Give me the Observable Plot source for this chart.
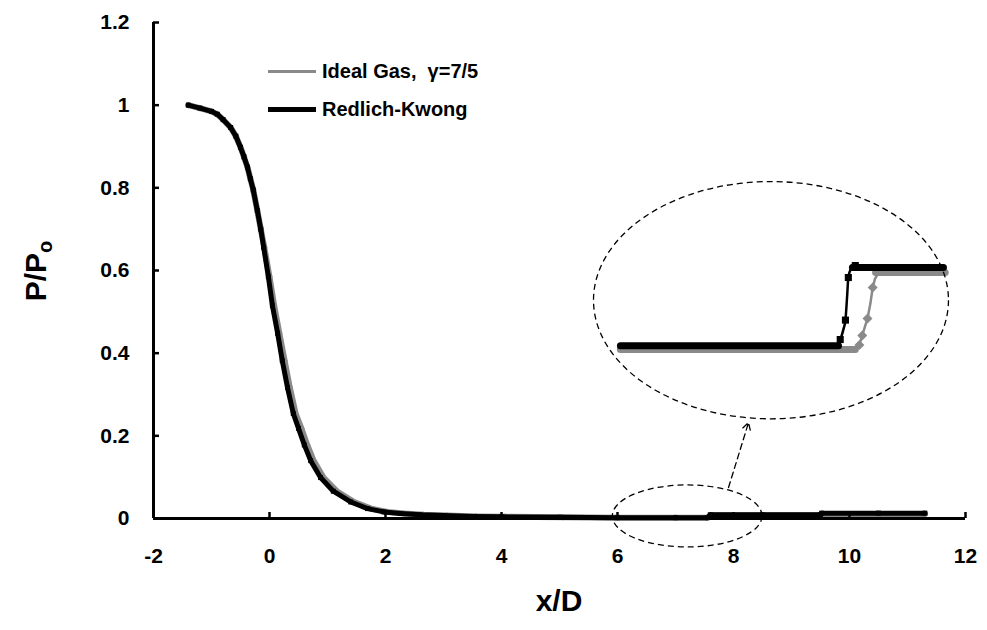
<!DOCTYPE html>
<html><head><meta charset="utf-8">
<script src="https://cdn.jsdelivr.net/npm/d3@7"></script>
<script src="https://cdn.jsdelivr.net/npm/@observablehq/plot@0.6"></script>
<style>
body{margin:0;background:#fff;font-family:"Liberation Sans",Arial,sans-serif;}
#wrap{position:relative;width:987px;height:630px;}
.leg{position:absolute;left:268px;display:flex;align-items:center;height:26px;font-weight:bold;font-size:20px;color:#000;white-space:pre;}
.leg .sw{width:48px;margin-right:6px;}
</style></head><body><div id="wrap"></div>
<script>
// ---- data ----
const xTicks = [-2, 0, 2, 4, 6, 8, 10, 12];
const xTickLabels = ["-2", "0", "2", "4", "6", "8", "10", "12"];
const yTicks = [0, 0.2, 0.4, 0.6, 0.8, 1, 1.2];
const yTickLabels = ["0", "0.2", "0.4", "0.6", "0.8", "1", "1.2"];
const seriesNames = ["Ideal Gas,  γ=7/5", "Redlich-Kwong"];

// Redlich-Kwong (black squares)
const rkX = [-1.40,-1.20,-1.00,-0.90,-0.80,-0.67,-0.58,-0.50,-0.44,-0.38,-0.33,-0.28,-0.21,-0.15,-0.10,-0.02,0.05,0.14,0.22,0.31,0.41,0.50,0.60,0.71,0.88,1.10,1.40,1.69,1.97,2.26,2.60,3.00,3.50,4.00,5.00,6.00,7.00,7.55,7.60,8.50,9.50,9.52,10.50,11.30];
const rkY = [1.000,0.993,0.985,0.978,0.965,0.946,0.925,0.898,0.875,0.850,0.822,0.795,0.745,0.700,0.656,0.585,0.515,0.448,0.382,0.317,0.254,0.218,0.178,0.140,0.099,0.066,0.040,0.024,0.016,0.012,0.009,0.007,0.005,0.004,0.003,0.002,0.002,0.002,0.009,0.009,0.009,0.013,0.013,0.013];
// Ideal gas (gray diamonds)
const igX = [-1.40,-1.20,-1.00,-0.90,-0.80,-0.67,-0.58,-0.50,-0.44,-0.38,-0.33,-0.28,-0.21,-0.15,-0.09,0.00,0.08,0.17,0.26,0.35,0.45,0.55,0.65,0.76,0.93,1.16,1.46,1.75,2.03,2.32,2.66,3.06,3.56,4.06,5.06,6.00,7.00,7.55,7.60,8.50,9.50,9.52,10.50,11.30];
const igY = [1.000,0.993,0.985,0.978,0.965,0.946,0.925,0.898,0.875,0.850,0.822,0.795,0.745,0.700,0.656,0.585,0.515,0.448,0.382,0.317,0.254,0.218,0.178,0.140,0.099,0.066,0.040,0.024,0.016,0.012,0.009,0.007,0.005,0.004,0.003,0.002,0.002,0.002,0.008,0.008,0.008,0.011,0.011,0.011];

// magnified inset (drawn in main-plot units)
const insetRkX = [6.05,9.78,9.84,9.90,9.93,9.96,9.98,10.03,10.10,10.20,10.90,11.62];
const insetRkY = [0.418,0.418,0.433,0.460,0.480,0.540,0.583,0.605,0.612,0.605,0.608,0.608];
const insetRkMarkX = [9.84,9.93,9.98,10.10];
const insetRkMarkY = [0.433,0.480,0.583,0.612];
const insetIgX = [6.05,10.05,10.10,10.17,10.22,10.28,10.31,10.36,10.40,10.44,10.48,10.55,11.65];
const insetIgY = [0.408,0.408,0.410,0.420,0.443,0.470,0.484,0.520,0.559,0.580,0.590,0.595,0.595];
const insetIgMarkX = [10.17,10.22,10.31,10.40];
const insetIgMarkY = [0.420,0.443,0.484,0.559];
const insetRkBand = [[6.05,0.418],[9.81,0.418]];
const insetRkTop = [[10.05,0.607],[11.62,0.607]];
const insetIgBand = [[6.05,0.409],[10.1,0.409]];
const insetIgTop = [[10.45,0.595],[11.65,0.595]];

// annotation ellipses and arrow
const ellCx = [8.655, 7.21];
const ellCy = [0.527, 0.005];
const ellRx = [3.06, 1.29];
const ellRy = [0.287, 0.075];
const arrowFrom = [7.914, 0.075];
const arrowTo = [8.259, 0.232];

// ---- build tables ----
const rk = rkX.map((x, i) => ({x, y: rkY[i]}));
const ig = igX.map((x, i) => ({x, y: igY[i]}));
const irk = insetRkX.map((x, i) => ({x, y: insetRkY[i]}));
const iig = insetIgX.map((x, i) => ({x, y: insetIgY[i]}));
const irkM = insetRkMarkX.map((x, i) => ({x, y: insetRkMarkY[i]}));
const iigM = insetIgMarkX.map((x, i) => ({x, y: insetIgMarkY[i]}));
const GRAY = "#8a8a8a";

const plot = Plot.plot({
  width: 987, height: 630,
  marginLeft: 153, marginRight: 22, marginTop: 22, marginBottom: 112,
  style: {fontFamily: "'Liberation Sans', Arial, sans-serif", background: "#fff"},
  x: {domain: [-2, 12]},
  y: {domain: [0, 1.2]},
  marks: [
    // data
    Plot.line(ig, {x: "x", y: "y", stroke: GRAY, strokeWidth: 6}),
    Plot.dot(ig, {x: "x", y: "y", symbol: "diamond2", r: 3, fill: GRAY}),
    Plot.line(rk, {x: "x", y: "y", stroke: "#000", strokeWidth: 5}),
    Plot.dot(rk, {x: "x", y: "y", symbol: "square", r: 2.8, fill: "#000"}),
    // inset
    Plot.line(insetIgBand, {stroke: GRAY, strokeWidth: 7}),
    Plot.line(insetIgTop, {stroke: GRAY, strokeWidth: 7}),
    Plot.line(iig, {x: "x", y: "y", stroke: GRAY, strokeWidth: 2.5}),
    Plot.dot(iigM, {x: "x", y: "y", symbol: "diamond2", r: 4.5, fill: GRAY}),
    Plot.line(insetRkBand, {stroke: "#000", strokeWidth: 7}),
    Plot.line(insetRkTop, {stroke: "#000", strokeWidth: 7}),
    Plot.line(irk, {x: "x", y: "y", stroke: "#000", strokeWidth: 2.5, curve: "monotone-x"}),
    Plot.dot(irkM, {x: "x", y: "y", symbol: "square", r: 4, fill: "#000"}),
    // arrow
    Plot.arrow([{x1: arrowFrom[0], y1: arrowFrom[1], x2: arrowTo[0], y2: arrowTo[1]}],
      {x1: "x1", y1: "y1", x2: "x2", y2: "y2", stroke: "#000", strokeWidth: 1.3, strokeDasharray: "6,4", headLength: 9}),
    // axes lines
    Plot.ruleX([-2], {strokeWidth: 3, stroke: "#000"}),
    Plot.ruleY([0], {strokeWidth: 3, stroke: "#000"}),
    // inward ticks
    Plot.axisX({ticks: xTicks, tickSize: 6, dy: -6, tickFormat: () => "", strokeWidth: 2.5, label: null}),
    Plot.axisY({ticks: yTicks, tickSize: 6, dx: 6, tickFormat: () => "", strokeWidth: 2.5, label: null}),
    // tick labels
    Plot.axisX({ticks: xTicks, tickSize: 0, tickPadding: 30, tickFormat: (d, i) => xTickLabels[i], fontSize: 21, fontWeight: "bold", fill: "#000", label: null}),
    Plot.axisY({ticks: yTicks, tickSize: 0, tickPadding: 24, tickFormat: (d, i) => yTickLabels[i], fontSize: 21, fontWeight: "bold", fill: "#000", label: null})
  ]
});

const svg = d3.select(plot);
// drop the empty label slots of the tick-only axes
svg.selectAll("text").filter(function() { return this.textContent.trim() === ""; }).remove();
const sx = plot.scale("x"), sy = plot.scale("y");
const g = svg.append("g").attr("fill", "none").attr("stroke", "#000").attr("stroke-width", 1.3).attr("stroke-dasharray", "6,4");
ellCx.forEach((cx, i) => {
  g.append("ellipse")
    .attr("cx", sx.apply(cx)).attr("cy", sy.apply(ellCy[i]))
    .attr("rx", sx.apply(cx + ellRx[i]) - sx.apply(cx))
    .attr("ry", sy.apply(ellCy[i]) - sy.apply(ellCy[i] + ellRy[i]));
});
// axis titles
svg.append("text").attr("x", 559).attr("y", 611).attr("text-anchor", "middle")
  .attr("font-size", 30).attr("font-weight", "bold").attr("fill", "#000").text("x/D");
const yl = svg.append("text").attr("transform", "translate(46,271) rotate(-90)").attr("text-anchor", "middle")
  .attr("font-size", 30).attr("font-weight", "bold").attr("fill", "#000");
yl.append("tspan").text("P/P");
yl.append("tspan").attr("font-size", 20).attr("dy", 6).text("o");

const wrap = document.getElementById("wrap");
wrap.appendChild(plot);
// legend
const legCols = [GRAY, "#000"];
const legH = [3, 5];
const legTop = [58, 96];
seriesNames.forEach((name, i) => {
  const row = document.createElement("div");
  row.className = "leg";
  row.style.top = legTop[i] + "px";
  const sw = document.createElement("div");
  sw.className = "sw";
  sw.style.height = legH[i] + "px";
  sw.style.background = legCols[i];
  row.appendChild(sw);
  const t = document.createElement("span");
  t.textContent = name;
  row.appendChild(t);
  wrap.appendChild(row);
});
</script></body></html>
